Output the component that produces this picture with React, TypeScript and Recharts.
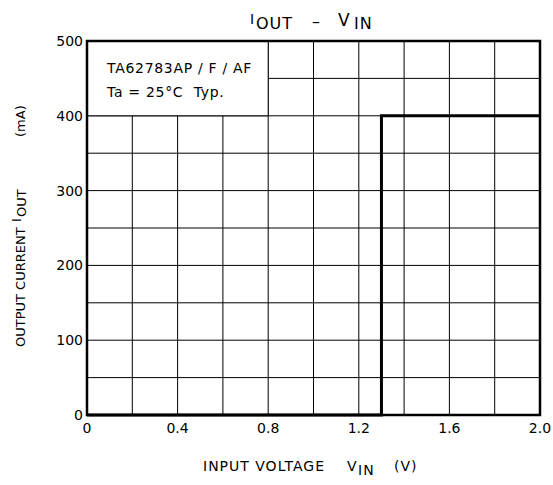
import React from 'react'
import {
  LineChart,
  Line,
  XAxis,
  YAxis,
  CartesianGrid,
  ReferenceArea,
} from 'recharts'

// I_OUT vs V_IN step curve
const vin = [0, 1.3, 1.3, 2.0]
const iout = [0, 0, 400, 400]

const xTicks = [0, 0.4, 0.8, 1.2, 1.6, 2.0]
const yTicks = [0, 100, 200, 300, 400, 500]
const xGrid = [0.2, 0.4, 0.6, 0.8, 1.0, 1.2, 1.4, 1.6, 1.8]
const yGrid = [50, 100, 150, 200, 250, 300, 350, 400, 450]

const legendLines = ['TA62783AP / F / AF', 'Ta = 25°C  Typ.']

const data = vin.map((v, i) => ({ v, i: iout[i] }))

const FONT = '"DejaVu Sans", Verdana, sans-serif'

function LegendText({ viewBox }: any) {
  if (!viewBox) return null
  const { x, y } = viewBox
  return (
    <g>
      {legendLines.map((t, k) => (
        <text
          key={t}
          x={x + 20}
          y={y + 32 + k * 24}
          fontSize={14}
          letterSpacing={0.7}
          fontFamily={FONT}
          fill="#000"
          style={{ whiteSpace: 'pre' }}
        >
          {t}
        </text>
      ))}
    </g>
  )
}

export default function App() {
  return (
    <div style={{ position: 'absolute', left: 0, top: 0, width: 553, height: 485, background: '#fff' }}>
      <LineChart
        width={553}
        height={485}
        data={data}
        margin={{ top: 41, right: 13, left: 0, bottom: 40 }}
      >
        <CartesianGrid
          stroke="#000"
          strokeWidth={1}
          verticalValues={xGrid}
          horizontalValues={yGrid}
        />
        <XAxis
          type="number"
          dataKey="v"
          domain={[0, 2]}
          ticks={xTicks}
          tickFormatter={(t: number) => (t === 0 ? '0' : t.toFixed(1))}
          tickLine={false}
          axisLine={false}
          height={30}
          tick={{ fill: '#000', fontSize: 14, fontFamily: FONT }}
          allowDataOverflow
        />
        <YAxis
          type="number"
          domain={[0, 500]}
          ticks={yTicks}
          tickLine={false}
          axisLine={false}
          width={87}
          tickSize={0}
          tickMargin={4}
          tick={{ fill: '#000', fontSize: 14, fontFamily: FONT }}
        />
        <ReferenceArea
          x1={0}
          x2={0.8}
          y1={400}
          y2={500}
          fill="#fff"
          fillOpacity={1}
          stroke="#000"
          strokeWidth={1}
          label={<LegendText />}
        />
        <ReferenceArea
          x1={0}
          x2={2}
          y1={0}
          y2={500}
          fill="none"
          stroke="#000"
          strokeWidth={2.5}
        />
        <Line
          type="linear"
          dataKey="i"
          stroke="#000"
          strokeWidth={3}
          dot={false}
          isAnimationActive={false}
        />
      </LineChart>
      <svg
        width={553}
        height={485}
        style={{ position: 'absolute', left: 0, top: 0, pointerEvents: 'none' }}
        fontFamily={FONT}
        fill="#000"
      >
        <text letterSpacing={1}>
          <tspan x={250} y={24} fontSize={14}>I</tspan>
          <tspan x={256} y={29} fontSize={16}>OUT</tspan>
          <tspan x={312} y={27} fontSize={16}>–</tspan>
          <tspan x={338} y={26} fontSize={17}>V</tspan>
          <tspan x={354} y={29} fontSize={16}>IN</tspan>
        </text>
        <text fontSize={14} letterSpacing={1}>
          <tspan x={203} y={471}>INPUT VOLTAGE</tspan>
          <tspan x={347} y={471}>V</tspan>
          <tspan x={358} y={475}>IN</tspan>
          <tspan x={394} y={471}>(V)</tspan>
        </text>
        <g transform="rotate(-90)">
          <text fontSize={13}>
            <tspan x={-347} y={25}>OUTPUT CURRENT</tspan>
            <tspan x={-222} y={21}>I</tspan>
            <tspan x={-217} y={26}>OUT</tspan>
            <tspan x={-137} y={25}>(mA)</tspan>
          </text>
        </g>
      </svg>
    </div>
  )
}
